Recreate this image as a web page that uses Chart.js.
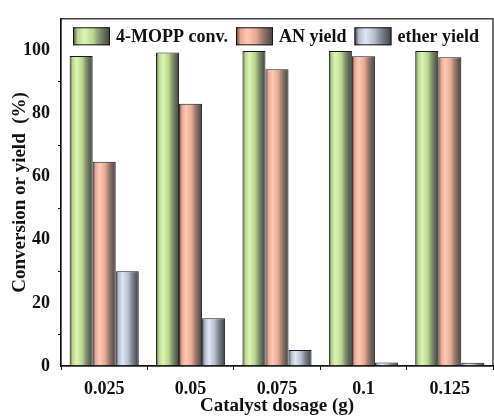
<!DOCTYPE html>
<html>
<head>
<meta charset="utf-8">
<script src="https://cdn.jsdelivr.net/npm/chart.js@4.4.1/dist/chart.umd.min.js"></script>
<style>
  html, body { margin: 0; padding: 0; background: #fff; }
  #wrap { width: 494px; height: 417px; position: relative; }
</style>
</head>
<body>
<div id="wrap"><canvas id="c"></canvas></div>
<script>
/* Conversion / yield vs catalyst dosage — grouped bars, cylinder shading */
const dosages = ['0.025', '0.05', '0.075', '0.1', '0.125'];
const mopConv = [98.2, 99.3, 99.8, 99.8, 99.8];
const anYield = [64.7, 83.1, 94.0, 98.1, 97.8];
const etherYield = [30.0, 15.1, 5.1, 1.1, 1.0];
const yTicks = [0, 20, 40, 60, 80, 100];

const FONT = '"Liberation Serif","Times New Roman",serif';
// [dark edge, light, base]
const SHADES = {
  green: ['#3b4632', '#dcf5b4', '#b9d58f'],
  salmon: ['#4a3a34', '#ffc9b4', '#e7a891'],
  blue: ['#3a3e48', '#dfe6f6', '#b4bccd'],
};

function barGradient(ctx, s, x0, x1) {
  const g = ctx.createLinearGradient(x0, 0, x1, 0);
  g.addColorStop(0, s[0]);
  g.addColorStop(0.12, s[2]);
  g.addColorStop(0.3, s[1]);
  g.addColorStop(0.55, s[2]);
  g.addColorStop(0.85, s[0] + 'cc');
  g.addColorStop(1, s[0]);
  return g;
}

/* dégradé horizontal par barre (recalculé à chaque dessin) */
const shading = {
  id: 'shading',
  beforeDatasetsDraw(chart) {
    const ctx = chart.ctx;
    chart.data.datasets.forEach((ds, i) => {
      const s = SHADES[ds.shade];
      chart.getDatasetMeta(i).data.forEach(el => {
        const g = barGradient(ctx, s, el.x - el.width / 2, el.x + el.width / 2);
        el.options = Object.assign({}, el.options, { backgroundColor: g });
      });
    });
  },
};

/* légende horizontale dans le cadre + cadre autour de la zone de tracé */
const frameLegend = {
  id: 'frameLegend',
  afterDraw(chart) {
    const { ctx, chartArea: a } = chart;
    ctx.save();
    ctx.strokeStyle = '#111'; ctx.lineWidth = 1.2;
    ctx.strokeRect(a.left, a.top, a.right - a.left, a.bottom - a.top);
    ctx.font = 'bold 18px ' + FONT;
    ctx.textBaseline = 'middle';
    let x = a.left + 12;
    const yc = a.top + 17.5, bw = 37, bh = 18;
    chart.data.datasets.forEach(d => {
      ctx.fillStyle = barGradient(ctx, SHADES[d.shade], x, x + bw);
      ctx.fillRect(x, yc - bh / 2, bw, bh);
      ctx.strokeStyle = '#1a1a1a'; ctx.lineWidth = 1;
      ctx.strokeRect(x + 0.5, yc - bh / 2 + 0.5, bw - 1, bh - 1);
      x += bw + 6;
      ctx.fillStyle = '#111';
      ctx.fillText(d.label, x, yc + 1);
      x += ctx.measureText(d.label).width + 8;
    });
    ctx.restore();
  },
};

function ds(label, data, shade, mid) {
  return { label, data, shade, backgroundColor: () => mid, borderColor: '#1a1a1a', borderWidth: 1,
    borderSkipped: 'bottom', categoryPercentage: 0.8, barPercentage: 1.0 };
}

new Chart(document.getElementById('c'), {
  type: 'bar',
  data: {
    labels: dosages,
    datasets: [
      ds('4-MOPP conv.', mopConv, 'green', '#c6e29c'),
      ds('AN yield', anYield, 'salmon', '#f5b49c'),
      ds('ether yield', etherYield, 'blue', '#c4cbdc'),
    ],
  },
  options: {
    responsive: true, maintainAspectRatio: false, animation: false,
    layout: { padding: { top: 14, right: 1, left: 0, bottom: 0 } },
    plugins: { tooltip: { enabled: false }, legend: { display: false } },
    scales: {
      x: {
        offset: true,
        grid: { display: true, drawOnChartArea: false, offset: true, tickLength: 4, tickColor: '#111' },
        border: { display: true, color: '#111', width: 1.2 },
        ticks: { color: '#111', padding: 9, font: { family: FONT, size: 18, weight: 'bold' } },
        title: { display: true, text: 'Catalyst dosage (g)', color: '#111', padding: { top: 0, bottom: 0 },
          font: { family: FONT, size: 19, weight: 'bold' } },
        afterFit: s => { s.height = 51; },
      },
      y: {
        min: 0, max: 110,
        afterBuildTicks: s => {
          const t = [];
          for (const v of yTicks) { t.push({ value: v }); if (v + 10 < 110) t.push({ value: v + 10 }); }
          s.ticks = t;
        },
        grid: { display: true, drawOnChartArea: false, tickLength: 3,
          tickColor: c => (c.tick && c.tick.value % 20 === 0) ? 'rgba(0,0,0,0)' : '#111' },
        border: { display: true, color: '#111', width: 1.2 },
        ticks: { color: '#111', padding: 8, font: { family: FONT, size: 18, weight: 'bold' },
          callback: v => (yTicks.includes(v) ? String(v) : '') },
        title: { display: true, text: 'Conversion or yield  (%)', color: '#111', padding: { top: 9, bottom: 0 },
          font: { family: FONT, size: 19, weight: 'bold' } },
        afterFit: s => { s.width = 61; },
      },
    },
  },
  plugins: [shading, frameLegend],
});
</script>
</body>
</html>
